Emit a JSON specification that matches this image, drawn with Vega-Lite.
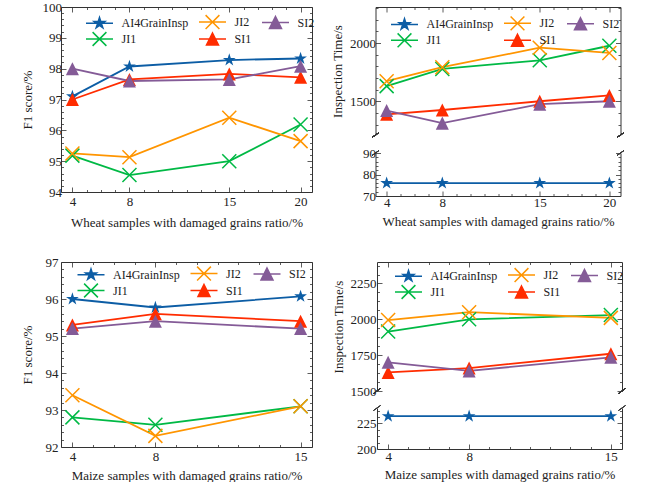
{
"$schema":"https://vega.github.io/schema/vega-lite/v6.json",
"background":"white",
"padding":{"left":21,"top":1,"right":0,"bottom":0},
"datasets":{
"wheatF1":[
{"ratio":4,"method":"AI4GrainInsp","value":97.1},{"ratio":8,"method":"AI4GrainInsp","value":98.07},{"ratio":15,"method":"AI4GrainInsp","value":98.28},{"ratio":20,"method":"AI4GrainInsp","value":98.33},
{"ratio":4,"method":"JI1","value":95.18},{"ratio":8,"method":"JI1","value":94.55},{"ratio":15,"method":"JI1","value":95.0},{"ratio":20,"method":"JI1","value":96.19},
{"ratio":4,"method":"JI2","value":95.25},{"ratio":8,"method":"JI2","value":95.13},{"ratio":15,"method":"JI2","value":96.41},{"ratio":20,"method":"JI2","value":95.65},
{"ratio":4,"method":"SI1","value":97.0},{"ratio":8,"method":"SI1","value":97.65},{"ratio":15,"method":"SI1","value":97.83},{"ratio":20,"method":"SI1","value":97.72},
{"ratio":4,"method":"SI2","value":98.0},{"ratio":8,"method":"SI2","value":97.6},{"ratio":15,"method":"SI2","value":97.65},{"ratio":20,"method":"SI2","value":98.08}],
"wheatTime":[
{"ratio":4,"method":"AI4GrainInsp","value":76},{"ratio":8,"method":"AI4GrainInsp","value":76},{"ratio":15,"method":"AI4GrainInsp","value":76},{"ratio":20,"method":"AI4GrainInsp","value":76},
{"ratio":4,"method":"JI1","value":1630},{"ratio":8,"method":"JI1","value":1778},{"ratio":15,"method":"JI1","value":1852},{"ratio":20,"method":"JI1","value":1977},
{"ratio":4,"method":"JI2","value":1672},{"ratio":8,"method":"JI2","value":1793},{"ratio":15,"method":"JI2","value":1960},{"ratio":20,"method":"JI2","value":1915},
{"ratio":4,"method":"SI1","value":1388},{"ratio":8,"method":"SI1","value":1425},{"ratio":15,"method":"SI1","value":1500},{"ratio":20,"method":"SI1","value":1550},
{"ratio":4,"method":"SI2","value":1420},{"ratio":8,"method":"SI2","value":1312},{"ratio":15,"method":"SI2","value":1475},{"ratio":20,"method":"SI2","value":1500}],
"maizeF1":[
{"ratio":4,"method":"AI4GrainInsp","value":96.0},{"ratio":8,"method":"AI4GrainInsp","value":95.77},{"ratio":15,"method":"AI4GrainInsp","value":96.07},
{"ratio":4,"method":"JI1","value":92.8},{"ratio":8,"method":"JI1","value":92.6},{"ratio":15,"method":"JI1","value":93.1},
{"ratio":4,"method":"JI2","value":93.4},{"ratio":8,"method":"JI2","value":92.3},{"ratio":15,"method":"JI2","value":93.1},
{"ratio":4,"method":"SI1","value":95.3},{"ratio":8,"method":"SI1","value":95.6},{"ratio":15,"method":"SI1","value":95.4},
{"ratio":4,"method":"SI2","value":95.2},{"ratio":8,"method":"SI2","value":95.4},{"ratio":15,"method":"SI2","value":95.2}],
"maizeTime":[
{"ratio":4,"method":"AI4GrainInsp","value":232},{"ratio":8,"method":"AI4GrainInsp","value":232},{"ratio":15,"method":"AI4GrainInsp","value":232},
{"ratio":4,"method":"JI1","value":1915},{"ratio":8,"method":"JI1","value":2000},{"ratio":15,"method":"JI1","value":2030},
{"ratio":4,"method":"JI2","value":1995},{"ratio":8,"method":"JI2","value":2050},{"ratio":15,"method":"JI2","value":2010},
{"ratio":4,"method":"SI1","value":1630},{"ratio":8,"method":"SI1","value":1660},{"ratio":15,"method":"SI1","value":1760},
{"ratio":4,"method":"SI2","value":1700},{"ratio":8,"method":"SI2","value":1640},{"ratio":15,"method":"SI2","value":1735}]
},
"resolve":{"scale":{"fill":"independent","stroke":"independent","shape":"independent"}},
"spacing":27,
"vconcat":[
{"hconcat":[
{"width":251,"height":185,"data":{"name":"wheatF1"},
"layer":[
{"mark":{"type":"line","strokeWidth":1.8},"encoding":{
"x":{"field":"ratio","type":"quantitative","scale":{"domain":[3.2,20.8],"nice":false,"zero":false},"axis":{"orient":"bottom","values":[4,8,15,20],"format":"d","tickSize":{"condition":{"test":"true","value":-5},"value":-5},"labelPadding":8,"title":"Wheat samples with damaged grains ratio/%","titlePadding":8}},
"y":{"field":"value","type":"quantitative","scale":{"domain":[94,100],"nice":false,"zero":false},"axis":{"orient":"left","values":[94,95,96,97,98,99,100],"format":"d","tickSize":{"condition":{"test":"true","value":-5},"value":-5},"labelPadding":4.5,"title":"F1 score/%","titlePadding":8}},
"color":{"field":"method","type":"nominal","scale":{"domain":["AI4GrainInsp","JI1","JI2","SI1","SI2"],"range":["#0C5DA5","#00B945","#FF9500","#FF2C00","#845B97"]},"legend":null}}},
{"transform":[{"filter":"datum.method === 'AI4GrainInsp'"}],"mark":{"type":"point","shape":"M0,-1L0.2245,-0.309L0.951,-0.309L0.363,0.118L0.588,0.809L0,0.382L-0.588,0.809L-0.363,0.118L-0.951,-0.309L-0.2245,-0.309Z","size":180,"filled":true,"opacity":1},"encoding":{
"x":{"field":"ratio","type":"quantitative","axis":{"orient":"bottom","values":[5,6,7,9,10,11,12,13,14,16,17,18,19],"labels":false,"domain":false,"title":null,"tickSize":{"condition":{"test":"true","value":-2.5},"value":-2.5}}},
"y":{"field":"value","type":"quantitative","axis":{"orient":"left","values":[94.2,94.4,94.6,94.8,95.2,95.4,95.6,95.8,96.2,96.4,96.6,96.8,97.2,97.4,97.6,97.8,98.2,98.4,98.6,98.8,99.2,99.4,99.6,99.8],"labels":false,"domain":false,"title":null,"tickSize":{"condition":{"test":"true","value":-2.5},"value":-2.5}}},
"color":{"field":"method","type":"nominal","legend":null}}},
{"transform":[{"filter":"indexof(datum.method, 'JI') === 0"}],"mark":{"type":"point","shape":"M-1,-1L1,1M-1,1L1,-1","size":196,"filled":false,"opacity":1,"strokeWidth":1.5},"encoding":{
"x":{"field":"ratio","type":"quantitative","axis":{"orient":"top","values":[5,6,7,9,10,11,12,13,14,16,17,18,19],"labels":false,"domain":false,"title":null,"tickSize":{"condition":{"test":"true","value":-2.5},"value":-2.5}}},
"y":{"field":"value","type":"quantitative","axis":{"orient":"right","values":[94.2,94.4,94.6,94.8,95.2,95.4,95.6,95.8,96.2,96.4,96.6,96.8,97.2,97.4,97.6,97.8,98.2,98.4,98.6,98.8,99.2,99.4,99.6,99.8],"labels":false,"domain":false,"title":null,"tickSize":{"condition":{"test":"true","value":-2.5},"value":-2.5}}},
"color":{"field":"method","type":"nominal","legend":null}}},
{"transform":[{"filter":"indexof(datum.method, 'SI') === 0"}],"mark":{"type":"point","shape":"M0,-1L1,1L-1,1Z","size":170,"filled":true,"opacity":1},"encoding":{"x":{"field":"ratio","type":"quantitative","axis":null},"y":{"field":"value","type":"quantitative","axis":null},"color":{"field":"method","type":"nominal","legend":null}}},
{"transform":[{"filter":"false"}],"mark":{"type":"point","filled":true,"opacity":1,"size":144,"strokeWidth":1.5},"encoding":{
"x":{"field":"ratio","type":"quantitative","axis":{"orient":"top","values":[4,8,15,20],"labels":false,"title":null,"tickSize":{"condition":{"test":"true","value":-5},"value":-5}}},
"y":{"field":"value","type":"quantitative","axis":{"orient":"right","values":[94,95,96,97,98,99,100],"labels":false,"title":null,"tickSize":{"condition":{"test":"true","value":-5},"value":-5}}},
"fill":{"field":"method","type":"nominal","scale":{"domain":["AI4GrainInsp","JI1","JI2","SI1","SI2"],"range":["#0C5DA5","#00B945","#FF9500","#FF2C00","#845B97"]},"legend":{"title":null,"orient":"none","legendX":31.5,"legendY":8,"rowPadding":-8,"columnPadding":7}},
"stroke":{"field":"method","type":"nominal","scale":{"domain":["AI4GrainInsp","JI1","JI2","SI1","SI2"],"range":["#0C5DA5","#00B945","#FF9500","#FF2C00","#845B97"]},"legend":{"title":null,"orient":"none","legendX":31.5,"legendY":8,"rowPadding":-8,"columnPadding":7}},
"shape":{"field":"method","type":"nominal","scale":{"domain":["AI4GrainInsp","JI1","JI2","SI1","SI2"],"range":["M-2.25,0H2.25M0,-0.95L0.213,-0.294L0.903,-0.294L0.345,0.112L0.559,0.769L0,0.363L-0.559,0.769L-0.345,0.112L-0.903,-0.294L-0.213,-0.294Z","M-2.25,0H2.25M-1.15,-1.15L1.15,1.15M-1.15,1.15L1.15,-1.15","M-2.25,0H2.25M-1.15,-1.15L1.15,1.15M-1.15,1.15L1.15,-1.15","M-2.25,0H2.25M0,-1L1,1L-1,1Z","M-2.25,0H2.25M0,-1L1,1L-1,1Z"]},"legend":{"title":null,"orient":"none","legendX":31.5,"legendY":8,"rowPadding":-8,"columnPadding":7}}}}
],
"resolve":{"axis":{"x":"independent","y":"independent"}}},
{"vconcat":[
{"width":245,"height":128,"data":{"name":"wheatTime"},"transform":[{"filter":"datum.method !== 'AI4GrainInsp'"}],
"layer":[
{"mark":{"type":"line","strokeWidth":1.8},"encoding":{
"x":{"field":"ratio","type":"quantitative","scale":{"domain":[3.2,20.8],"nice":false,"zero":false},"axis":null},
"y":{"field":"value","type":"quantitative","scale":{"domain":[1210,2310],"nice":false,"zero":false},"axis":{"orient":"left","values":[1500,2000],"format":"d","tickSize":{"condition":{"test":"true","value":-5},"value":-5},"labelPadding":5,"title":"Inspection Time/s","titlePadding":5}},
"color":{"field":"method","type":"nominal","scale":{"domain":["AI4GrainInsp","JI1","JI2","SI1","SI2"],"range":["#0C5DA5","#00B945","#FF9500","#FF2C00","#845B97"]},"legend":null}}},
{"transform":[{"filter":"indexof(datum.method, 'JI') === 0"}],"mark":{"type":"point","shape":"M-1,-1L1,1M-1,1L1,-1","size":196,"filled":false,"opacity":1,"strokeWidth":1.5},"encoding":{
"x":{"field":"ratio","type":"quantitative","axis":{"orient":"top","values":[5,6,7,9,10,11,12,13,14,16,17,18,19],"labels":false,"domain":false,"title":null,"tickSize":{"condition":{"test":"true","value":-2.5},"value":-2.5}}},
"y":{"field":"value","type":"quantitative","axis":{"orient":"left","values":[1300,1400,1600,1700,1800,1900,2100,2200,2300],"labels":false,"domain":false,"title":null,"tickSize":{"condition":{"test":"true","value":-2.5},"value":-2.5}}},
"color":{"field":"method","type":"nominal","legend":null}}},
{"transform":[{"filter":"indexof(datum.method, 'SI') === 0"}],"mark":{"type":"point","shape":"M0,-1L1,1L-1,1Z","size":170,"filled":true,"opacity":1},"encoding":{
"x":{"field":"ratio","type":"quantitative","axis":null},
"y":{"field":"value","type":"quantitative","axis":{"orient":"right","values":[1300,1400,1600,1700,1800,1900,2100,2200,2300],"labels":false,"domain":false,"title":null,"tickSize":{"condition":{"test":"true","value":-2.5},"value":-2.5}}},
"color":{"field":"method","type":"nominal","legend":null}}},
{"transform":[{"filter":"false"}],"mark":{"type":"point","filled":true,"opacity":1,"size":144,"strokeWidth":1.5},"encoding":{
"x":{"field":"ratio","type":"quantitative","axis":{"orient":"top","values":[4,8,15,20],"labels":false,"title":null,"tickSize":{"condition":{"test":"true","value":-5},"value":-5}}},
"y":{"field":"value","type":"quantitative","axis":{"orient":"right","values":[1500,2000],"labels":false,"title":null,"tickSize":{"condition":{"test":"true","value":-5},"value":-5}}},
"fill":{"field":"method","type":"nominal","scale":{"domain":["AI4GrainInsp","JI1","JI2","SI1","SI2"],"range":["#0C5DA5","#00B945","#FF9500","#FF2C00","#845B97"]},"legend":{"title":null,"orient":"none","legendX":22,"legendY":9.3,"rowPadding":-8,"columnPadding":7}},
"stroke":{"field":"method","type":"nominal","scale":{"domain":["AI4GrainInsp","JI1","JI2","SI1","SI2"],"range":["#0C5DA5","#00B945","#FF9500","#FF2C00","#845B97"]},"legend":{"title":null,"orient":"none","legendX":22,"legendY":9.3,"rowPadding":-8,"columnPadding":7}},
"shape":{"field":"method","type":"nominal","scale":{"domain":["AI4GrainInsp","JI1","JI2","SI1","SI2"],"range":["M-2.25,0H2.25M0,-0.95L0.213,-0.294L0.903,-0.294L0.345,0.112L0.559,0.769L0,0.363L-0.559,0.769L-0.345,0.112L-0.903,-0.294L-0.213,-0.294Z","M-2.25,0H2.25M-1.15,-1.15L1.15,1.15M-1.15,1.15L1.15,-1.15","M-2.25,0H2.25M-1.15,-1.15L1.15,1.15M-1.15,1.15L1.15,-1.15","M-2.25,0H2.25M0,-1L1,1L-1,1Z","M-2.25,0H2.25M0,-1L1,1L-1,1Z"]},"legend":{"title":null,"orient":"none","legendX":22,"legendY":9.3,"rowPadding":-8,"columnPadding":7}}}},
{"mark":{"type":"rule","color":"#333","strokeWidth":1},"encoding":{"x":{"datum":2.95,"axis":null},"x2":{"datum":3.45},"y":{"datum":1189,"axis":null},"y2":{"datum":1231}}},
{"mark":{"type":"rule","color":"#333","strokeWidth":1},"encoding":{"x":{"datum":20.55,"axis":null},"x2":{"datum":21.05},"y":{"datum":1189,"axis":null},"y2":{"datum":1231}}}
],
"resolve":{"axis":{"x":"independent","y":"independent"}}},
{"width":245,"height":43,"data":{"name":"wheatTime"},"transform":[{"filter":"datum.method === 'AI4GrainInsp'"}],
"layer":[
{"mark":{"type":"line","strokeWidth":1.8},"encoding":{
"x":{"field":"ratio","type":"quantitative","scale":{"domain":[3.2,20.8],"nice":false,"zero":false},"axis":{"orient":"bottom","values":[4,8,15,20],"format":"d","tickSize":{"condition":{"test":"true","value":-5},"value":-5},"labelPadding":5.5,"title":"Wheat samples with damaged grains ratio/%","titlePadding":6}},
"y":{"field":"value","type":"quantitative","scale":{"domain":[70,90],"nice":false,"zero":false},"axis":{"orient":"left","values":[70,80,90],"format":"d","tickSize":{"condition":{"test":"true","value":-5},"value":-5},"labelPadding":5,"title":null}},
"color":{"field":"method","type":"nominal","scale":{"domain":["AI4GrainInsp","JI1","JI2","SI1","SI2"],"range":["#0C5DA5","#00B945","#FF9500","#FF2C00","#845B97"]},"legend":null}}},
{"mark":{"type":"point","shape":"M0,-1L0.2245,-0.309L0.951,-0.309L0.363,0.118L0.588,0.809L0,0.382L-0.588,0.809L-0.363,0.118L-0.951,-0.309L-0.2245,-0.309Z","size":180,"filled":true,"opacity":1},"encoding":{
"x":{"field":"ratio","type":"quantitative","axis":{"orient":"bottom","values":[5,6,7,9,10,11,12,13,14,16,17,18,19],"labels":false,"domain":false,"title":null,"tickSize":{"condition":{"test":"true","value":-2.5},"value":-2.5}}},
"y":{"field":"value","type":"quantitative","axis":{"orient":"left","values":[72,74,76,78,82,84,86,88],"labels":false,"domain":false,"title":null,"tickSize":{"condition":{"test":"true","value":-2.5},"value":-2.5}}},
"color":{"field":"method","type":"nominal","legend":null}}},
{"transform":[{"filter":"false"}],"mark":{"type":"point","opacity":1},"encoding":{"x":{"field":"ratio","type":"quantitative","axis":null},"y":{"field":"value","type":"quantitative","axis":{"orient":"right","values":[70,80,90],"labels":false,"title":null,"tickSize":{"condition":{"test":"true","value":-5},"value":-5}}}}},
{"transform":[{"filter":"false"}],"mark":{"type":"point","opacity":1},"encoding":{"x":{"field":"ratio","type":"quantitative","axis":null},"y":{"field":"value","type":"quantitative","axis":{"orient":"right","values":[72,74,76,78,82,84,86,88],"labels":false,"domain":false,"title":null,"tickSize":{"condition":{"test":"true","value":-2.5},"value":-2.5}}}}},
{"mark":{"type":"rule","color":"#333","strokeWidth":1},"encoding":{"x":{"datum":2.95,"axis":null},"x2":{"datum":3.45},"y":{"datum":88.84,"axis":null},"y2":{"datum":91.16}}},
{"mark":{"type":"rule","color":"#333","strokeWidth":1},"encoding":{"x":{"datum":20.55,"axis":null},"x2":{"datum":21.05},"y":{"datum":88.84,"axis":null},"y2":{"datum":91.16}}}
],
"resolve":{"axis":{"x":"independent","y":"independent"}}}
],"spacing":18,"bounds":"flush","resolve":{"scale":{"fill":"independent","stroke":"independent","shape":"independent"}}}
],"spacing":16.5,"resolve":{"scale":{"fill":"independent","stroke":"independent","shape":"independent"}}},
{"hconcat":[
{"width":251,"height":185,"data":{"name":"maizeF1"},
"layer":[
{"mark":{"type":"line","strokeWidth":1.8},"encoding":{
"x":{"field":"ratio","type":"quantitative","scale":{"domain":[3.45,15.55],"nice":false,"zero":false},"axis":{"orient":"bottom","values":[4,8,15],"format":"d","tickSize":{"condition":{"test":"true","value":-5},"value":-5},"labelPadding":8,"title":"Maize samples with damaged grains ratio/%","titlePadding":6}},
"y":{"field":"value","type":"quantitative","scale":{"domain":[92,97],"nice":false,"zero":false},"axis":{"orient":"left","values":[92,93,94,95,96,97],"format":"d","tickSize":{"condition":{"test":"true","value":-5},"value":-5},"labelPadding":8,"title":"F1 score/%","titlePadding":11}},
"color":{"field":"method","type":"nominal","scale":{"domain":["AI4GrainInsp","JI1","JI2","SI1","SI2"],"range":["#0C5DA5","#00B945","#FF9500","#FF2C00","#845B97"]},"legend":null}}},
{"transform":[{"filter":"datum.method === 'AI4GrainInsp'"}],"mark":{"type":"point","shape":"M0,-1L0.2245,-0.309L0.951,-0.309L0.363,0.118L0.588,0.809L0,0.382L-0.588,0.809L-0.363,0.118L-0.951,-0.309L-0.2245,-0.309Z","size":180,"filled":true,"opacity":1},"encoding":{
"x":{"field":"ratio","type":"quantitative","axis":{"orient":"bottom","values":[5,6,7,9,10,11,12,13,14],"labels":false,"domain":false,"title":null,"tickSize":{"condition":{"test":"true","value":-2.5},"value":-2.5}}},
"y":{"field":"value","type":"quantitative","axis":{"orient":"left","values":[92.2,92.4,92.6,92.8,93.2,93.4,93.6,93.8,94.2,94.4,94.6,94.8,95.2,95.4,95.6,95.8,96.2,96.4,96.6,96.8],"labels":false,"domain":false,"title":null,"tickSize":{"condition":{"test":"true","value":-2.5},"value":-2.5}}},
"color":{"field":"method","type":"nominal","legend":null}}},
{"transform":[{"filter":"indexof(datum.method, 'JI') === 0"}],"mark":{"type":"point","shape":"M-1,-1L1,1M-1,1L1,-1","size":196,"filled":false,"opacity":1,"strokeWidth":1.5},"encoding":{
"x":{"field":"ratio","type":"quantitative","axis":{"orient":"top","values":[5,6,7,9,10,11,12,13,14],"labels":false,"domain":false,"title":null,"tickSize":{"condition":{"test":"true","value":-2.5},"value":-2.5}}},
"y":{"field":"value","type":"quantitative","axis":{"orient":"right","values":[92.2,92.4,92.6,92.8,93.2,93.4,93.6,93.8,94.2,94.4,94.6,94.8,95.2,95.4,95.6,95.8,96.2,96.4,96.6,96.8],"labels":false,"domain":false,"title":null,"tickSize":{"condition":{"test":"true","value":-2.5},"value":-2.5}}},
"color":{"field":"method","type":"nominal","legend":null}}},
{"transform":[{"filter":"indexof(datum.method, 'SI') === 0"}],"mark":{"type":"point","shape":"M0,-1L1,1L-1,1Z","size":170,"filled":true,"opacity":1},"encoding":{"x":{"field":"ratio","type":"quantitative","axis":null},"y":{"field":"value","type":"quantitative","axis":null},"color":{"field":"method","type":"nominal","legend":null}}},
{"transform":[{"filter":"false"}],"mark":{"type":"point","filled":true,"opacity":1,"size":144,"strokeWidth":1.5},"encoding":{
"x":{"field":"ratio","type":"quantitative","axis":{"orient":"top","values":[4,8,15],"labels":false,"title":null,"tickSize":{"condition":{"test":"true","value":-5},"value":-5}}},
"y":{"field":"value","type":"quantitative","axis":{"orient":"right","values":[92,93,94,95,96,97],"labels":false,"title":null,"tickSize":{"condition":{"test":"true","value":-5},"value":-5}}},
"fill":{"field":"method","type":"nominal","scale":{"domain":["AI4GrainInsp","JI1","JI2","SI1","SI2"],"range":["#0C5DA5","#00B945","#FF9500","#FF2C00","#845B97"]},"legend":{"title":null,"orient":"none","legendX":23,"legendY":4.5,"rowPadding":-8,"columnPadding":7}},
"stroke":{"field":"method","type":"nominal","scale":{"domain":["AI4GrainInsp","JI1","JI2","SI1","SI2"],"range":["#0C5DA5","#00B945","#FF9500","#FF2C00","#845B97"]},"legend":{"title":null,"orient":"none","legendX":23,"legendY":4.5,"rowPadding":-8,"columnPadding":7}},
"shape":{"field":"method","type":"nominal","scale":{"domain":["AI4GrainInsp","JI1","JI2","SI1","SI2"],"range":["M-2.25,0H2.25M0,-0.95L0.213,-0.294L0.903,-0.294L0.345,0.112L0.559,0.769L0,0.363L-0.559,0.769L-0.345,0.112L-0.903,-0.294L-0.213,-0.294Z","M-2.25,0H2.25M-1.15,-1.15L1.15,1.15M-1.15,1.15L1.15,-1.15","M-2.25,0H2.25M-1.15,-1.15L1.15,1.15M-1.15,1.15L1.15,-1.15","M-2.25,0H2.25M0,-1L1,1L-1,1Z","M-2.25,0H2.25M0,-1L1,1L-1,1Z"]},"legend":{"title":null,"orient":"none","legendX":23,"legendY":4.5,"rowPadding":-8,"columnPadding":7}}}}
],
"resolve":{"axis":{"x":"independent","y":"independent"}}},
{"vconcat":[
{"width":245,"height":129,"data":{"name":"maizeTime"},"transform":[{"filter":"datum.method !== 'AI4GrainInsp'"}],
"layer":[
{"mark":{"type":"line","strokeWidth":1.8},"encoding":{
"x":{"field":"ratio","type":"quantitative","scale":{"domain":[3.45,15.55],"nice":false,"zero":false},"axis":null},
"y":{"field":"value","type":"quantitative","scale":{"domain":[1500,2400],"nice":false,"zero":false},"axis":{"orient":"left","values":[1500,1750,2000,2250],"format":"d","tickSize":{"condition":{"test":"true","value":-5},"value":-5},"labelPadding":6,"title":"Inspection Time/s","titlePadding":5}},
"color":{"field":"method","type":"nominal","scale":{"domain":["AI4GrainInsp","JI1","JI2","SI1","SI2"],"range":["#0C5DA5","#00B945","#FF9500","#FF2C00","#845B97"]},"legend":null}}},
{"transform":[{"filter":"indexof(datum.method, 'JI') === 0"}],"mark":{"type":"point","shape":"M-1,-1L1,1M-1,1L1,-1","size":196,"filled":false,"opacity":1,"strokeWidth":1.5},"encoding":{
"x":{"field":"ratio","type":"quantitative","axis":{"orient":"top","values":[5,6,7,9,10,11,12,13,14],"labels":false,"domain":false,"title":null,"tickSize":{"condition":{"test":"true","value":-2.5},"value":-2.5}}},
"y":{"field":"value","type":"quantitative","axis":{"orient":"left","values":[1562.5,1625,1687.5,1812.5,1875,1937.5,2062.5,2125,2187.5,2312.5,2375],"labels":false,"domain":false,"title":null,"tickSize":{"condition":{"test":"true","value":-2.5},"value":-2.5}}},
"color":{"field":"method","type":"nominal","legend":null}}},
{"transform":[{"filter":"indexof(datum.method, 'SI') === 0"}],"mark":{"type":"point","shape":"M0,-1L1,1L-1,1Z","size":170,"filled":true,"opacity":1},"encoding":{
"x":{"field":"ratio","type":"quantitative","axis":null},
"y":{"field":"value","type":"quantitative","axis":{"orient":"right","values":[1562.5,1625,1687.5,1812.5,1875,1937.5,2062.5,2125,2187.5,2312.5,2375],"labels":false,"domain":false,"title":null,"tickSize":{"condition":{"test":"true","value":-2.5},"value":-2.5}}},
"color":{"field":"method","type":"nominal","legend":null}}},
{"transform":[{"filter":"false"}],"mark":{"type":"point","filled":true,"opacity":1,"size":144,"strokeWidth":1.5},"encoding":{
"x":{"field":"ratio","type":"quantitative","axis":{"orient":"top","values":[4,8,15],"labels":false,"title":null,"tickSize":{"condition":{"test":"true","value":-5},"value":-5}}},
"y":{"field":"value","type":"quantitative","axis":{"orient":"right","values":[1500,1750,2000,2250],"labels":false,"title":null,"tickSize":{"condition":{"test":"true","value":-5},"value":-5}}},
"fill":{"field":"method","type":"nominal","scale":{"domain":["AI4GrainInsp","JI1","JI2","SI1","SI2"],"range":["#0C5DA5","#00B945","#FF9500","#FF2C00","#845B97"]},"legend":{"title":null,"orient":"none","legendX":24.5,"legendY":6,"rowPadding":-8,"columnPadding":7}},
"stroke":{"field":"method","type":"nominal","scale":{"domain":["AI4GrainInsp","JI1","JI2","SI1","SI2"],"range":["#0C5DA5","#00B945","#FF9500","#FF2C00","#845B97"]},"legend":{"title":null,"orient":"none","legendX":24.5,"legendY":6,"rowPadding":-8,"columnPadding":7}},
"shape":{"field":"method","type":"nominal","scale":{"domain":["AI4GrainInsp","JI1","JI2","SI1","SI2"],"range":["M-2.25,0H2.25M0,-0.95L0.213,-0.294L0.903,-0.294L0.345,0.112L0.559,0.769L0,0.363L-0.559,0.769L-0.345,0.112L-0.903,-0.294L-0.213,-0.294Z","M-2.25,0H2.25M-1.15,-1.15L1.15,1.15M-1.15,1.15L1.15,-1.15","M-2.25,0H2.25M-1.15,-1.15L1.15,1.15M-1.15,1.15L1.15,-1.15","M-2.25,0H2.25M0,-1L1,1L-1,1Z","M-2.25,0H2.25M0,-1L1,1L-1,1Z"]},"legend":{"title":null,"orient":"none","legendX":24.5,"legendY":6,"rowPadding":-8,"columnPadding":7}}}},
{"mark":{"type":"rule","color":"#333","strokeWidth":1},"encoding":{"x":{"datum":3.277,"axis":null},"x2":{"datum":3.623},"y":{"datum":1482.6,"axis":null},"y2":{"datum":1517.4}}},
{"mark":{"type":"rule","color":"#333","strokeWidth":1},"encoding":{"x":{"datum":15.377,"axis":null},"x2":{"datum":15.723},"y":{"datum":1482.6,"axis":null},"y2":{"datum":1517.4}}}
],
"resolve":{"axis":{"x":"independent","y":"independent"}}},
{"width":245,"height":41,"data":{"name":"maizeTime"},"transform":[{"filter":"datum.method === 'AI4GrainInsp'"}],
"layer":[
{"mark":{"type":"line","strokeWidth":1.8},"encoding":{
"x":{"field":"ratio","type":"quantitative","scale":{"domain":[3.45,15.55],"nice":false,"zero":false},"axis":{"orient":"bottom","values":[4,8,15],"format":"d","tickSize":{"condition":{"test":"true","value":-5},"value":-5},"labelPadding":6,"title":"Maize samples with damaged grains ratio/%","titlePadding":5}},
"y":{"field":"value","type":"quantitative","scale":{"domain":[200,240],"nice":false,"zero":false},"axis":{"orient":"left","values":[200,225],"format":"d","tickSize":{"condition":{"test":"true","value":-5},"value":-5},"labelPadding":6,"title":null}},
"color":{"field":"method","type":"nominal","scale":{"domain":["AI4GrainInsp","JI1","JI2","SI1","SI2"],"range":["#0C5DA5","#00B945","#FF9500","#FF2C00","#845B97"]},"legend":null}}},
{"mark":{"type":"point","shape":"M0,-1L0.2245,-0.309L0.951,-0.309L0.363,0.118L0.588,0.809L0,0.382L-0.588,0.809L-0.363,0.118L-0.951,-0.309L-0.2245,-0.309Z","size":180,"filled":true,"opacity":1},"encoding":{
"x":{"field":"ratio","type":"quantitative","axis":{"orient":"bottom","values":[5,6,7,9,10,11,12,13,14],"labels":false,"domain":false,"title":null,"tickSize":{"condition":{"test":"true","value":-2.5},"value":-2.5}}},
"y":{"field":"value","type":"quantitative","axis":{"orient":"left","values":[206.25,212.5,218.75,231.25,237.5],"labels":false,"domain":false,"title":null,"tickSize":{"condition":{"test":"true","value":-2.5},"value":-2.5}}},
"color":{"field":"method","type":"nominal","legend":null}}},
{"transform":[{"filter":"false"}],"mark":{"type":"point","opacity":1},"encoding":{"x":{"field":"ratio","type":"quantitative","axis":null},"y":{"field":"value","type":"quantitative","axis":{"orient":"right","values":[200,225],"labels":false,"title":null,"tickSize":{"condition":{"test":"true","value":-5},"value":-5}}}}},
{"transform":[{"filter":"false"}],"mark":{"type":"point","opacity":1},"encoding":{"x":{"field":"ratio","type":"quantitative","axis":null},"y":{"field":"value","type":"quantitative","axis":{"orient":"right","values":[206.25,212.5,218.75,231.25,237.5],"labels":false,"domain":false,"title":null,"tickSize":{"condition":{"test":"true","value":-2.5},"value":-2.5}}}}},
{"mark":{"type":"rule","color":"#333","strokeWidth":1},"encoding":{"x":{"datum":3.277,"axis":null},"x2":{"datum":3.623},"y":{"datum":237.56,"axis":null},"y2":{"datum":242.44}}},
{"mark":{"type":"rule","color":"#333","strokeWidth":1},"encoding":{"x":{"datum":15.377,"axis":null},"x2":{"datum":15.723},"y":{"datum":237.56,"axis":null},"y2":{"datum":242.44}}}
],
"resolve":{"axis":{"x":"independent","y":"independent"}}}
],"spacing":17,"bounds":"flush","resolve":{"scale":{"fill":"independent","stroke":"independent","shape":"independent"}}}
],"spacing":19,"resolve":{"scale":{"fill":"independent","stroke":"independent","shape":"independent"}}}
],
"config":{
"font":"Liberation Serif",
"view":{"stroke":null},
"axis":{"labelFont":"Liberation Serif","titleFont":"Liberation Serif","labelFontSize":13,"titleFontSize":13,"titleFontWeight":"normal","labelColor":"#222","titleColor":"#222","domainColor":"#333","tickColor":"#333","domainWidth":1,"tickWidth":0.8,"grid":false,"labelFlush":false,"labelOverlap":false},
"legend":{"labelFont":"Liberation Serif","labelFontSize":12,"labelColor":"#222","columns":3,"symbolSize":144,"symbolStrokeWidth":1.5,"labelOffset":15,"columnPadding":7,"rowPadding":-8,"padding":0}
}
}
